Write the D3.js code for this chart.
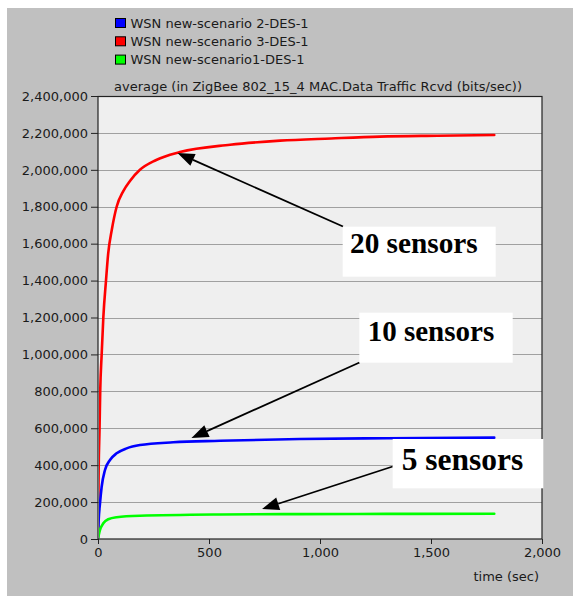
<!DOCTYPE html>
<html>
<head>
<meta charset="utf-8">
<script src="https://cdn.jsdelivr.net/npm/d3@7"></script>
<style>
  html, body { margin: 0; padding: 0; background: #ffffff; }
  svg { display: block; }
</style>
</head>
<body>
<script>
// Series: average ZigBee MAC data traffic received (bits/sec) over simulation time (sec)
const seriesNames = ["WSN new-scenario 2-DES-1", "WSN new-scenario 3-DES-1", "WSN new-scenario1-DES-1"];
const seriesColors = ["#0000ff", "#ff0000", "#00ff00"];

const timeBlue  = [0, 3, 9, 16.5, 31.5, 54, 84, 129, 189, 339, 550, 910, 1300, 1785];
const valueBlue = [0, 100000, 193000, 283000, 374000, 428000, 464000, 491000, 509000, 524000, 532000, 542000, 546000, 549000];

const timeRed  = [0, 3, 7, 10, 16.5, 24, 36, 46, 62, 84, 114, 144, 189, 260, 369, 595, 820, 1050, 1270, 1530, 1785];
const valueRed = [0, 380000, 600000, 800000, 1000000, 1200000, 1400000, 1548000, 1674000, 1800000, 1885000, 1940000, 2000000, 2052000, 2096000, 2136000, 2158000, 2170000, 2180000, 2185000, 2189000];

const timeGreen  = [0, 4, 9, 24, 46, 84, 189, 550, 910, 1300, 1785];
const valueGreen = [0, 25000, 49000, 85000, 107000, 118000, 126000, 133000, 135000, 136000, 137000];

const xTicks = [0, 500, 1000, 1500, 2000];
const yTicks = [0, 200000, 400000, 600000, 800000, 1000000, 1200000, 1400000, 1600000, 1800000, 2000000, 2200000, 2400000];

const chartTitle = "average (in ZigBee 802_15_4 MAC.Data Traffic Rcvd (bits/sec))";
const xLabel = "time (sec)";

// Callouts: label and the (time, value) point each arrow points at
const calloutText   = ["20 sensors", "10 sensors", "5 sensors"];
const calloutTime   = [358, 421, 739];
const calloutValue  = [2091000, 547000, 162500];

// ---- layout ----
const W = 573, H = 596;
const plot = { left: 98, right: 542, top: 96, bottom: 539 };
const calloutBoxes = [
  { x: 342.7, y: 226.7, w: 153, h: 50, tx: 350, ty: 253.3, size: 29.3, ax: 343, ay: 226.5 },
  { x: 359.3, y: 312.7, w: 153.4, h: 50, tx: 367.7, ty: 341, size: 29, ax: 359.5, ay: 362.5 },
  { x: 392.7, y: 439, w: 150.6, h: 49.3, tx: 401.7, ty: 470, size: 31.5, ax: 392.7, ay: 466.5 }
];
const uiFont = "'DejaVu Sans', Verdana, sans-serif";
const uiSize = "13px";
const calloutFont = "'Liberation Serif', 'Times New Roman', serif";

const svg = d3.select("body").append("svg").attr("width", W).attr("height", H);

// panel background
svg.append("rect").attr("x", 7).attr("y", 8).attr("width", W - 7).attr("height", H - 8).attr("fill", "#c0c0c0");

const x = d3.scaleLinear().domain([0, 2000]).range([plot.left, plot.right]);
const y = d3.scaleLinear().domain([0, 2400000]).range([plot.bottom, plot.top]);

// plot area
svg.append("rect")
  .attr("x", plot.left).attr("y", plot.top)
  .attr("width", plot.right - plot.left).attr("height", plot.bottom - plot.top)
  .attr("fill", "#efefef");

// horizontal grid
svg.append("g").selectAll("line")
  .data(yTicks.filter(d => d > 0 && d < 2400000))
  .join("line")
  .attr("x1", plot.left).attr("x2", plot.right)
  .attr("y1", d => Math.round(y(d)) + 0.5).attr("y2", d => Math.round(y(d)) + 0.5)
  .attr("stroke", "#a0a0a0").attr("stroke-width", 1);

// axes
const fmt = d3.format(",");
const yAxis = svg.append("g").attr("transform", `translate(${plot.left},0)`)
  .call(d3.axisLeft(y).tickValues(yTicks).tickFormat(fmt).tickSize(7).tickPadding(3));
const xAxis = svg.append("g").attr("transform", `translate(0,${plot.bottom})`)
  .call(d3.axisBottom(x).tickValues(xTicks).tickFormat(fmt).tickSize(5).tickPadding(4));
[yAxis, xAxis].forEach(g => {
  g.select(".domain").remove();
  g.selectAll("line").attr("stroke", "#222");
  g.selectAll("text").attr("fill", "#1a1a1a").style("font-family", uiFont).style("font-size", uiSize);
});

// frame
svg.append("rect")
  .attr("x", plot.left).attr("y", plot.top + 0.5)
  .attr("width", plot.right - plot.left).attr("height", plot.bottom - plot.top - 0.5)
  .attr("fill", "none").attr("stroke", "#222").attr("stroke-width", 1.2);

// title & axis label
svg.append("text").attr("x", (plot.left + plot.right) / 2 - 2).attr("y", 91)
  .attr("text-anchor", "middle").attr("fill", "#1a1a1a")
  .style("font-family", uiFont).style("font-size", uiSize).text(chartTitle);
svg.append("text").attr("x", 539).attr("y", 581)
  .attr("text-anchor", "end").attr("fill", "#1a1a1a")
  .style("font-family", uiFont).style("font-size", uiSize).text(xLabel);

// legend
const legend = svg.append("g");
seriesNames.forEach((name, i) => {
  const ly = 18 + i * 18.3;
  legend.append("rect").attr("x", 115.5).attr("y", ly + 0.5).attr("width", 10).attr("height", 9)
    .attr("fill", seriesColors[i]).attr("stroke", "#000").attr("stroke-width", 1);
  legend.append("text").attr("x", 130.5).attr("y", ly + 9.8)
    .attr("fill", "#1a1a1a").style("font-family", uiFont).style("font-size", uiSize).text(name);
});

// series lines
const line = d3.line().x(d => x(d[0])).y(d => y(d[1])).curve(d3.curveMonotoneX);
const series = [
  { t: timeRed, v: valueRed, c: seriesColors[1] },
  { t: timeBlue, v: valueBlue, c: seriesColors[0] },
  { t: timeGreen, v: valueGreen, c: seriesColors[2] }
];
svg.append("clipPath").attr("id", "plotclip").append("rect")
  .attr("x", plot.left + 1).attr("y", plot.top).attr("width", plot.right - plot.left).attr("height", plot.bottom - plot.top);
svg.append("g").attr("clip-path", "url(#plotclip)")
  .selectAll("path").data(series).join("path")
  .attr("d", s => line(s.t.map((t, i) => [t, s.v[i]])))
  .attr("fill", "none").attr("stroke", s => s.c).attr("stroke-width", 2.6)
  .attr("stroke-linejoin", "round").attr("stroke-linecap", "round");

// callouts: white box, bold label, arrow to the curve
const callouts = svg.append("g");
calloutText.forEach((label, i) => {
  const b = calloutBoxes[i];
  const tx = x(calloutTime[i]), ty = y(calloutValue[i]);
  const dx = tx - b.ax, dy = ty - b.ay;
  const len = Math.hypot(dx, dy), ux = dx / len, uy = dy / len;
  const headLen = 17, headHalf = 6.5;
  const bx = tx - ux * headLen, by = ty - uy * headLen;
  callouts.append("line").attr("x1", b.ax).attr("y1", b.ay).attr("x2", bx).attr("y2", by)
    .attr("stroke", "#000").attr("stroke-width", 1.8);
  callouts.append("path")
    .attr("d", `M${tx},${ty}L${bx - uy * headHalf},${by + ux * headHalf}L${bx + uy * headHalf},${by - ux * headHalf}Z`)
    .attr("fill", "#000");
  callouts.append("rect").attr("x", b.x).attr("y", b.y).attr("width", b.w).attr("height", b.h).attr("fill", "#ffffff");
  callouts.append("text").attr("x", b.tx).attr("y", b.ty)
    .style("font-family", calloutFont).style("font-weight", "bold").style("font-size", b.size + "px")
    .attr("fill", "#000").text(label);
});
</script>
</body>
</html>
